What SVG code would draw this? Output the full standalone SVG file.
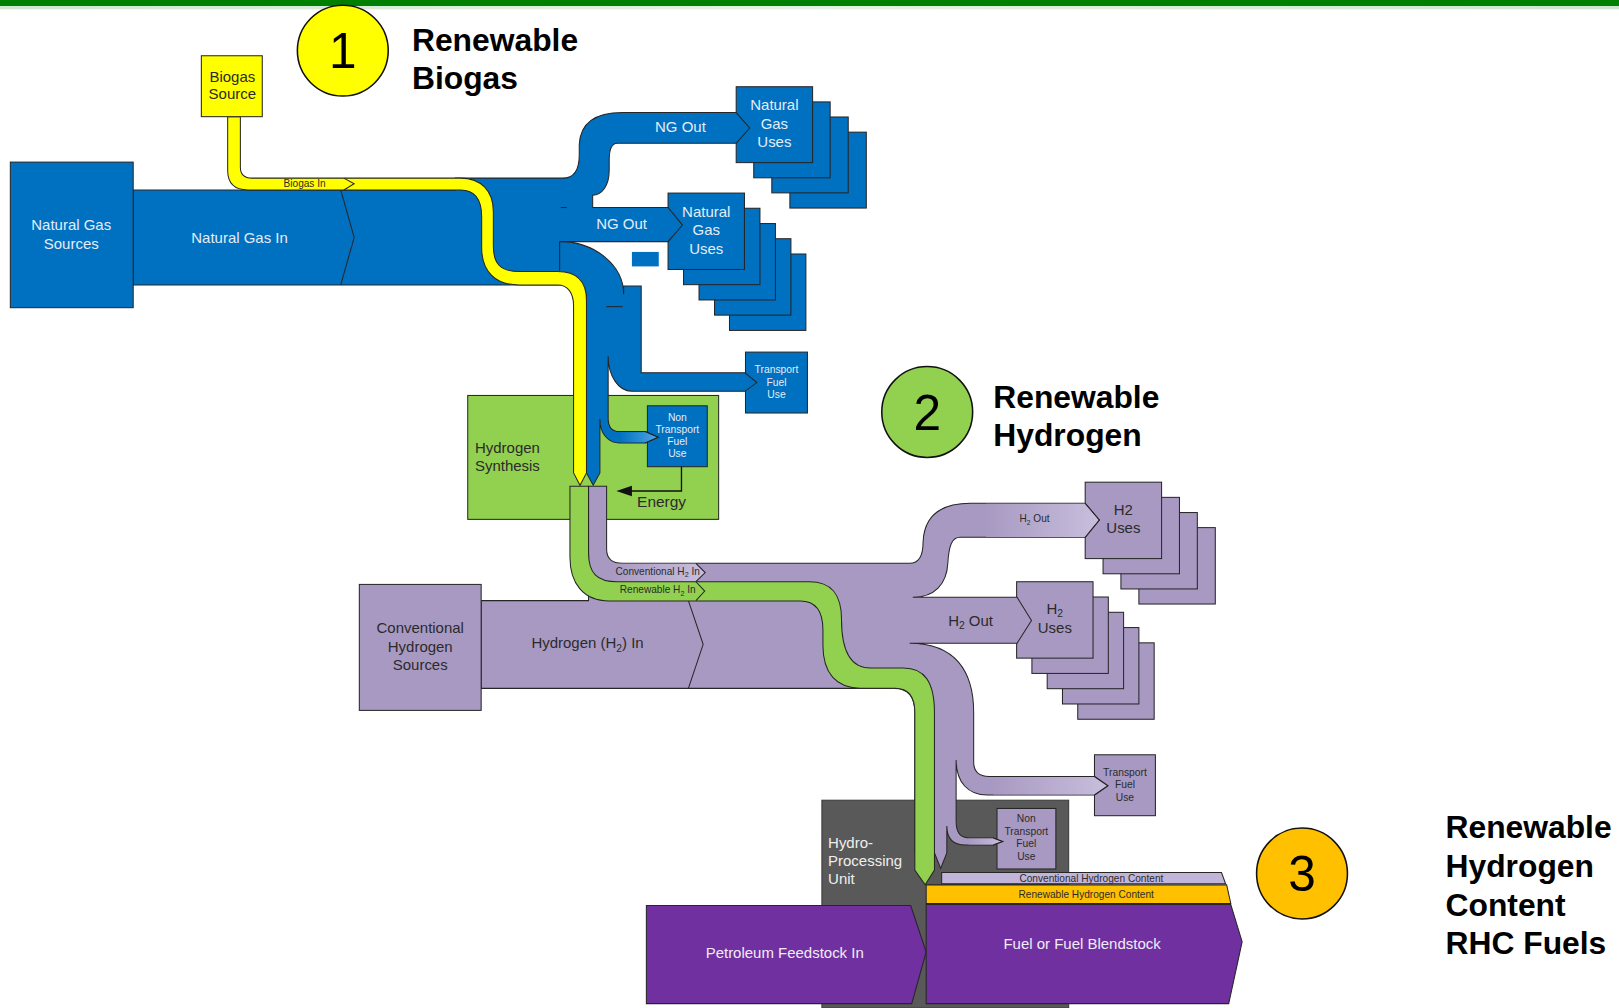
<svg xmlns="http://www.w3.org/2000/svg" width="1619" height="1008" viewBox="0 0 1619 1008">
<defs>
<style>
text{font-family:"Liberation Sans",Arial,sans-serif}
.bl{fill:#0070C0;stroke:#262626;stroke-width:1}
.pu{fill:#A899C2;stroke:#262626;stroke-width:1}
.ye{fill:#FFFF00;stroke:#262626;stroke-width:1}
.gr{fill:#92D050;stroke:#262626;stroke-width:1}
.ln{fill:none;stroke:#262626;stroke-width:1}
.tw{fill:#E4ECF6;font-size:14.5px;text-anchor:middle}
.td{fill:#2B2B2B;font-size:14.5px;text-anchor:middle}
.sw{fill:#E4ECF6;font-size:10px;text-anchor:middle}
.sd{fill:#2B2B2B;font-size:10px;text-anchor:middle}
.xs{fill:#2B2B2B;font-size:9.8px;text-anchor:middle}
.hd{fill:#000;font-size:30.8px;font-weight:bold}
.num{fill:#000;font-size:48px;text-anchor:middle}
.cir{stroke:#111;stroke-width:1.5}
</style>
<linearGradient id="gBlue" x1="0" x2="1" y1="0" y2="0"><stop offset="0" stop-color="#0070C0"/><stop offset="1" stop-color="#4FA6E6"/></linearGradient>
<linearGradient id="gPur" x1="0" x2="1" y1="0" y2="0"><stop offset="0" stop-color="#A899C2"/><stop offset="1" stop-color="#C8BEDC"/></linearGradient>
<linearGradient id="gTop" x1="0" x2="1" y1="0" y2="0"><stop offset="0" stop-color="#D0E6D0"/><stop offset="0.5" stop-color="#E6F1E6"/><stop offset="1" stop-color="#CFE4CF"/></linearGradient>
</defs>
<rect width="1619" height="1008" fill="#FFFFFF"/>
<g transform="scale(1.03253)">
<g id="topbar"><rect x="0" y="0" width="1568" height="6" fill="#008000"/><rect x="0" y="6" width="1568" height="3" fill="url(#gTop)"/></g>

<!-- background process boxes -->
<g id="hydrogen-synthesis">
<rect x="453" y="383" width="243" height="120" class="gr"/>
<text x="460" y="438.5" fill="#2B2B2B" font-size="14.5">Hydrogen</text>
<text x="460" y="456" fill="#2B2B2B" font-size="14.5">Synthesis</text>
</g>
<g id="hydro-processing">
<rect x="796" y="775" width="239" height="201" fill="#595959" stroke="#3A3A3A" stroke-width="1"/>
<text x="802" y="821" fill="#EEEEEE" font-size="14.5">Hydro-</text>
<text x="802" y="838.5" fill="#EEEEEE" font-size="14.5">Processing</text>
<text x="802" y="856" fill="#EEEEEE" font-size="14.5">Unit</text>
</g>

<!-- use boxes -->
<g id="ng-uses-1">
<rect x="765" y="128" width="74" height="73.5" class="bl"/>
<rect x="747.5" y="113.3" width="74" height="73.5" class="bl"/>
<rect x="730" y="98.7" width="74" height="73.5" class="bl"/>
<rect x="713" y="84" width="74" height="73.5" class="bl"/>
<text x="750" y="107" class="tw">Natural</text><text x="750" y="124.5" class="tw">Gas</text><text x="750" y="142" class="tw">Uses</text>
</g>
<g id="ng-uses-2">
<rect x="706.5" y="246" width="74" height="74" class="bl"/>
<rect x="692" y="231.2" width="74" height="74" class="bl"/>
<rect x="677" y="216.5" width="74" height="74" class="bl"/>
<rect x="662" y="201.7" width="74" height="74" class="bl"/>
<rect x="647" y="187" width="74" height="74" class="bl"/>
<text x="684" y="210" class="tw">Natural</text><text x="684" y="228" class="tw">Gas</text><text x="684" y="246" class="tw">Uses</text>
</g>
<g id="ng-transport">
<rect x="722" y="341" width="60" height="59" class="bl"/>
<text x="752" y="361.5" class="sw">Transport</text><text x="752" y="373.5" class="sw">Fuel</text><text x="752" y="385.5" class="sw">Use</text>
</g>
<g id="ng-non-transport">
<rect x="627" y="393" width="58" height="59" class="bl"/>
<text x="656" y="407.5" class="sw">Non</text><text x="656" y="419.5" class="sw">Transport</text><text x="656" y="430.5" class="sw">Fuel</text><text x="656" y="442.5" class="sw">Use</text>
</g>
<g id="h2-uses-1">
<rect x="1103" y="511" width="74" height="74" class="pu"/>
<rect x="1085.6" y="496.4" width="74" height="74" class="pu"/>
<rect x="1068.3" y="481.7" width="74" height="74" class="pu"/>
<rect x="1051" y="467" width="74" height="74" class="pu"/>
<text x="1088" y="498.5" class="td">H2</text><text x="1088" y="516.5" class="td">Uses</text>
</g>
<g id="h2-uses-2">
<rect x="1043.8" y="622.6" width="74" height="74" class="pu"/>
<rect x="1029" y="607.8" width="74" height="74" class="pu"/>
<rect x="1014.2" y="593" width="74" height="74" class="pu"/>
<rect x="999.4" y="578.2" width="74" height="74" class="pu"/>
<rect x="984.6" y="563.4" width="74" height="74" class="pu"/>
<text x="1021.6" y="595" class="td">H<tspan font-size="10" dy="3">2</tspan></text><text x="1021.6" y="613" class="td">Uses</text>
</g>
<g id="h2-transport">
<rect x="1060" y="731" width="59" height="59" class="pu"/>
<text x="1089.5" y="751.5" class="sd">Transport</text><text x="1089.5" y="763.5" class="sd">Fuel</text><text x="1089.5" y="775.5" class="sd">Use</text>
</g>
<g id="h2-non-transport">
<rect x="965.6" y="783" width="57" height="58.6" class="pu"/>
<text x="994" y="796.5" class="sd">Non</text><text x="994" y="808.5" class="sd">Transport</text><text x="994" y="820.5" class="sd">Fuel</text><text x="994" y="832.5" class="sd">Use</text>
</g>

<!-- flows -->
<g id="connectors">
<path class="bl" d="M129,184 H441 V172.5 H545 C556,172.5 561,164 561,150 V140 C562,120 575,109 603,109 H713 L726,124 L713,138.8 H598 C592,138.8 590,145 590,155 V165 C590,180 583,189 574,189 V201 H647 L661,218 L647,234 H542 A62 51 0 0 1 604,285 V277 H621 V361 H721.5 L733,370.5 L721.5,379 H612 C599,379 589,364 589,345 V405 C589,414 593,418 600,418 H625 L637.5,423.5 L625,429 H600 C589,429 581,420 581,406 V458 L574.5,470 L568,458 V285 L550,276 H129 Z"/>
<polygon points="600,418.6 625,418.6 636.5,423.5 625,428.4 600,428.4" fill="url(#gBlue)"/>
<polyline class="ln" points="625,418 637.5,423.5 625,429"/>
<rect x="612" y="244" width="26" height="14" fill="#0070C0"/>
<line class="ln" x1="543" y1="201" x2="549" y2="201"/>
<line class="ln" x1="587" y1="297" x2="603" y2="297"/>
<line class="ln" x1="542" y1="234" x2="542" y2="264"/>
<polyline class="ln" points="330,184 343,230 330,276"/>
<path class="ye" d="M220.5,113 H232.8 V162 C232.8,169 236,172.5 244,172.5 H446 C466,172.5 477.8,185 477.8,205 V238 C477.8,255 484,263 503,263 H540 C559,263 568,272 568,291 V458 L561.75,470 L555.5,458 V296 C555.5,284 550,276 540,276 H503 C480,276 466.5,263 466.5,240 V210 C466.5,193 460,184 446,184 H240 C227,184 220.5,177 220.5,165 Z"/>
<polyline class="ln" points="333,172.5 343,178 333,184"/>

<path class="pu" d="M570,471 H587.5 V532 C587.5,541 592,545.6 603,545.6 H881 C890,545.6 894,538 894,525 C895,500 910,487.5 940,487.5 H1051 L1064.7,503.6 L1051,520.4 H930 C922,520.4 919,528 918,545 C917,566 905,578.5 884,578.5 H985 L999,601 L985,623 H881 C925,623 943,650 943,690 V738 C943,748 948,752 958,752 H1060 L1073,761 L1060,770 H956 C938,770 926,758 926,736 V795 C926,807 930,811.6 940,811.6 H962 L971,815 L962,818.4 H935 C923,818.4 917,812 917,800 V826 L911,841 L905,826 L886,826 V690 C886,676 880,666.7 866,666.7 H466 V581.7 H570 Z"/>
<polygon points="955,488 1051,488 1064,503.6 1051,520 955,520" fill="url(#gPur)"/>
<polyline class="ln" points="1051,487.5 1064.7,503.6 1051,520.4"/>
<polygon points="962,752.5 1060,752.5 1072.3,761 1060,769.5 962,769.5" fill="url(#gPur)"/>
<polyline class="ln" points="1060,752 1073,761 1060,770"/>
<polygon points="938,812.1 962,812.1 970.3,815 962,817.9 938,817.9" fill="url(#gPur)"/>
<polyline class="ln" points="962,811.6 971,815 962,818.4"/>
<polygon points="592,546.1 674,546.1 682.3,554.5 674,562.9 592,562.9" fill="url(#gPur)"/>
<polyline class="ln" points="674,545.6 683,554.5 674,563.4"/>
<polyline class="ln" points="666.7,581.7 681,624 666.7,666.7"/>

<path class="gr" d="M552,471 H570 V535 C570,555 578,563.4 598,563.4 H784 C805,563.4 815,575 815,600 C815,630 823,647 843,647 H875 C895,647 905,660 905,690 V842.6 L896,857 L886,842.6 V690 C886,675 880,666.5 867,666.5 H833 C810,666.5 797,652 797,625 V610 C797,592 790,582 775,582 H590 C565,582 552,565 552,540 Z"/>
<polyline class="ln" points="674,563.4 682.5,572.5 674,581.7"/>

<text x="295" y="181.3" class="xs" font-size="10">Biogas In</text>
<text x="232" y="235" class="tw">Natural Gas In</text>
<text x="659" y="128" class="tw">NG Out</text>
<text x="602" y="222" class="tw">NG Out</text>
<text x="637" y="557.3" class="xs">Conventional H<tspan font-size="7" dy="2">2</tspan><tspan dy="-2"> In</tspan></text>
<text x="637" y="574.8" class="xs">Renewable H<tspan font-size="7" dy="2">2</tspan><tspan dy="-2"> In</tspan></text>
<text x="569" y="628" class="td">Hydrogen (H<tspan font-size="10" dy="3">2</tspan><tspan dy="-3">) In</tspan></text>
<text x="940" y="606" class="td">H<tspan font-size="10" dy="3">2</tspan><tspan dy="-3"> Out</tspan></text>
<text x="1002" y="506" class="xs" font-size="9">H<tspan font-size="6.5" dy="2">2</tspan><tspan dy="-2"> Out</tspan></text>
<polyline fill="none" stroke="#111" stroke-width="1.3" points="660,452 660,475.5 611,475.5"/>
<polygon points="597,475.5 612,470.5 612,480.5" fill="#111"/>
<text x="617" y="491" fill="#2B2B2B" font-size="15">Energy</text>
</g>

<!-- sources and products -->
<g id="natural-gas-sources">
<rect x="10" y="157" width="119" height="141" class="bl"/>
<text x="69" y="223" class="tw">Natural Gas</text><text x="69" y="241" class="tw">Sources</text>
</g>
<g id="biogas-source">
<rect x="195" y="54" width="59" height="59" class="ye"/>
<text x="225" y="79" class="td" font-size="14">Biogas</text><text x="225" y="96" class="td" font-size="14">Source</text>
</g>
<g id="conventional-hydrogen-sources">
<rect x="348" y="566" width="118" height="122" class="pu"/>
<text x="407" y="613" class="td">Conventional</text><text x="407" y="631" class="td">Hydrogen</text><text x="407" y="649" class="td">Sources</text>
</g>
<g id="conventional-content">
<polygon points="912,845 1183,845 1187,856 912,856" fill="#C2B5DA" stroke="#262626" stroke-width="1"/>
<text x="1057" y="853.8" class="xs" font-size="10.3">Conventional Hydrogen Content</text>
</g>
<g id="renewable-content">
<polygon points="897,857 1188,857 1192,875 897,875" fill="#FFC000" stroke="#262626" stroke-width="1"/>
<text x="1052" y="869.8" class="xs" font-size="10.3">Renewable Hydrogen Content</text>
</g>
<g id="petroleum-feedstock">
<polygon points="626,877 882,877 897,922 883,972 626,972" fill="#7030A0" stroke="#262626" stroke-width="1"/>
<text x="760" y="928" fill="#F0ECF6" font-size="14.5" text-anchor="middle">Petroleum Feedstock In</text>
</g>
<g id="fuel-blendstock">
<polygon points="897,876 1192,876 1203,912 1190,972 897,972" fill="#7030A0" stroke="#262626" stroke-width="1"/>
<text x="1048" y="919" fill="#F0ECF6" font-size="14.5" text-anchor="middle">Fuel or Fuel Blendstock</text>
</g>

<!-- callouts -->
<g id="callout-1">
<circle cx="332" cy="49" r="44" fill="#FFFF00" class="cir"/>
<text x="332" y="66" class="num">1</text>
<text x="399" y="49" class="hd">Renewable</text><text x="399" y="86" class="hd">Biogas</text>
</g>
<g id="callout-2">
<circle cx="898" cy="399" r="44" fill="#92D050" class="cir"/>
<text x="898" y="416" class="num">2</text>
<text x="962" y="395" class="hd">Renewable</text><text x="962" y="432" class="hd">Hydrogen</text>
</g>
<g id="callout-3">
<circle cx="1261" cy="846" r="44" fill="#FFC000" class="cir"/>
<text x="1261" y="863" class="num">3</text>
<text x="1400" y="812" class="hd">Renewable</text><text x="1400" y="849" class="hd">Hydrogen</text><text x="1400" y="887" class="hd">Content</text><text x="1400" y="924" class="hd">RHC Fuels</text>
</g>
</g>
</svg>
